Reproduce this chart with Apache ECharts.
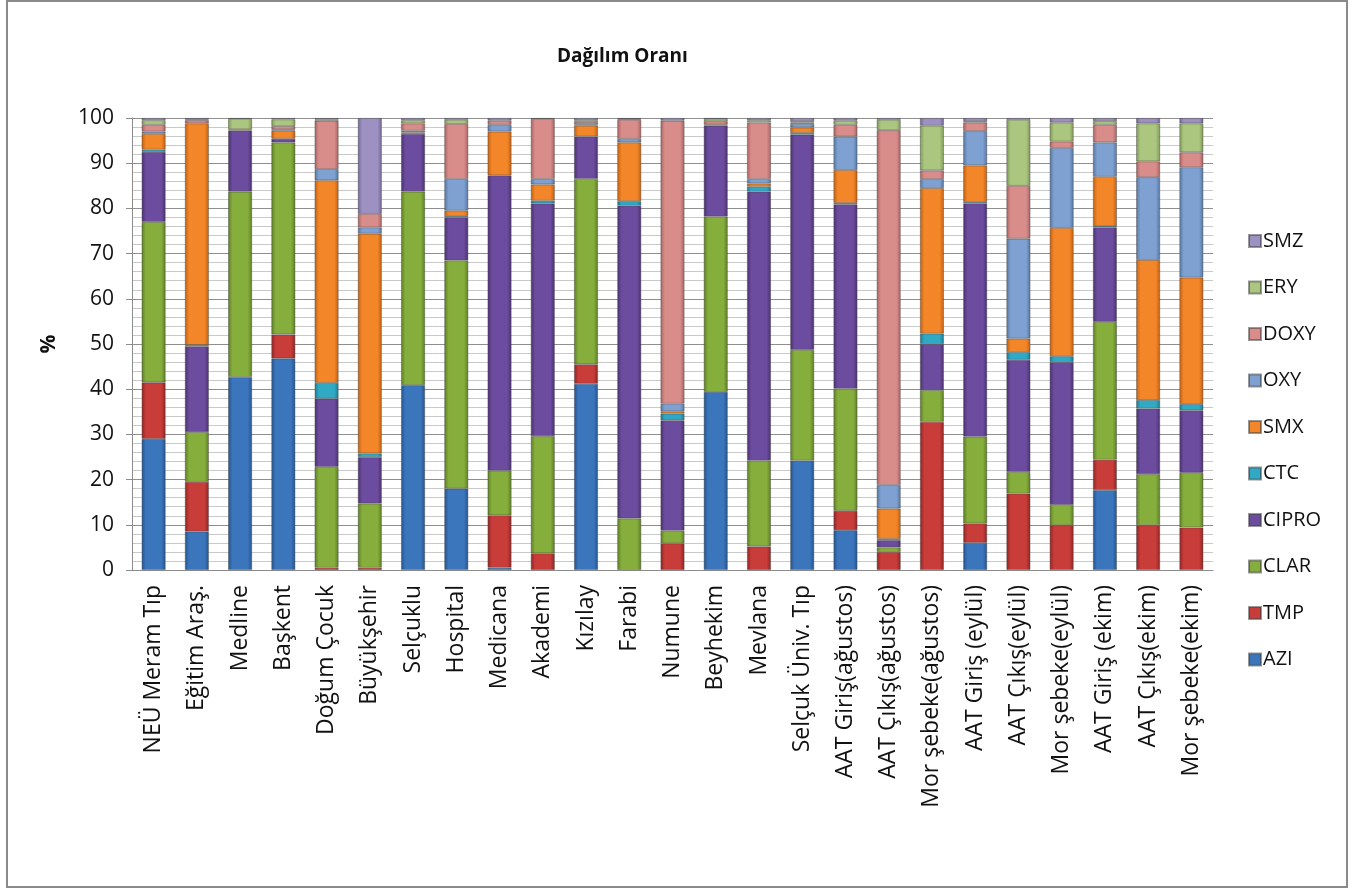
<!DOCTYPE html>
<html>
<head>
<meta charset="utf-8">
<script src="https://cdn.jsdelivr.net/npm/echarts@6/dist/echarts.min.js"></script>
<style>
  html, body { margin: 0; padding: 0; background: #fff; }
  #chart { width: 1359px; height: 890px; }
</style>
</head>
<body>
<div id="chart"></div>
<script>
// Sampling sites
const categories = [
  'NEÜ Meram Tıp', 'Eğitim Araş.', 'Medline', 'Başkent', 'Doğum Çocuk', 'Büyükşehir',
  'Selçuklu', 'Hospital', 'Medicana', 'Akademi', 'Kızılay', 'Farabi', 'Numune',
  'Beyhekim', 'Mevlana', 'Selçuk Üniv. Tıp', 'AAT Giriş(ağustos)', 'AAT Çıkış(ağustos)',
  'Mor şebeke(ağustos)', 'AAT Giriş (eylül)', 'AAT Çıkış(eylül)', 'Mor şebeke(eylül)',
  'AAT Giriş (ekim)', 'AAT Çıkış(ekim)', 'Mor şebeke(ekim)'
];

// Share (%) of each antibiotic per site
const AZI   = [29, 8.5, 42.7, 46.8, 0, 0, 40.9, 18, 0.5, 0, 41.2, 0, 0, 39.4, 0, 24.2, 8.8, 0, 0, 6, 0, 0, 17.7, 0, 0];
const TMP   = [12.5, 11, 0, 5.3, 0.5, 0.5, 0, 0, 11.6, 3.7, 4.3, 0, 5.9, 0, 5.2, 0, 4.3, 4, 32.8, 4.3, 16.9, 9.9, 6.7, 9.9, 9.4];
const CLAR  = [35.5, 11, 41, 42.5, 22.3, 14.2, 42.8, 50.5, 9.9, 25.9, 41, 11.4, 2.8, 38.8, 19, 24.5, 27, 1, 7, 19.2, 4.8, 4.5, 30.5, 11.3, 12.1];
const CIPRO = [15.5, 19, 13.5, 0.8, 15.1, 10.3, 12.8, 9.5, 65.3, 51.5, 9.4, 69.2, 24.4, 20.1, 59.5, 47.6, 40.8, 1.6, 10.2, 51.6, 24.8, 31.6, 20.9, 14.5, 13.8];
const CTC   = [0.5, 0.3, 0, 0, 3.5, 0.8, 0, 0.3, 0, 0.6, 0, 1, 1.5, 0, 1.1, 0.4, 0.3, 0.3, 2.3, 0.3, 1.7, 1.3, 0.3, 1.9, 1.4];
const SMX   = [3.5, 49, 0, 1.8, 44.8, 48.6, 0.3, 1.2, 9.7, 3.6, 2.4, 13, 0.5, 0.3, 0.7, 1.2, 7.3, 6.7, 32.2, 8.1, 3, 28.4, 10.9, 31, 28];
const OXY   = [0.5, 0, 0, 0.3, 2.5, 1.4, 0.4, 7, 1.5, 1.2, 0.3, 0.8, 1.7, 0, 1, 0.8, 7.4, 5.2, 2, 7.6, 22.1, 17.7, 7.6, 18.3, 24.4];
const DOXY  = [1.5, 0.7, 0.3, 0.7, 10.7, 3, 1.6, 12.2, 0.9, 13.3, 0.5, 4.2, 62.6, 0.7, 12.5, 0.3, 2.6, 78.5, 1.9, 1.9, 11.7, 1.4, 3.9, 3.5, 3.3];
const ERY   = [1, 0.2, 2.3, 1.5, 0.3, 0, 0.7, 0.9, 0, 0, 0.4, 0.2, 0, 0.5, 0.5, 0.3, 0.9, 2.3, 9.9, 0.3, 14.6, 4.2, 0.8, 8.4, 6.4];
const SMZ   = [0.5, 0.3, 0.2, 0.3, 0.3, 21.2, 0.5, 0.4, 0.6, 0.2, 0.5, 0.2, 0.6, 0.2, 0.5, 0.7, 0.6, 0.4, 1.7, 0.7, 0.4, 1, 0.7, 1.2, 1.2];

const yTicks = [0, 10, 20, 30, 40, 50, 60, 70, 80, 90, 100];

const seriesDefs = [
  { name: 'AZI',   data: AZI,   base: '#3b76bd', edge: '#24528c' },
  { name: 'TMP',   data: TMP,   base: '#c83c3a', edge: '#8e2422' },
  { name: 'CLAR',  data: CLAR,  base: '#86ae3c', edge: '#5c7d24' },
  { name: 'CIPRO', data: CIPRO, base: '#6c4c9e', edge: '#49306f' },
  { name: 'CTC',   data: CTC,   base: '#30a9c4', edge: '#1c7a8f' },
  { name: 'SMX',   data: SMX,   base: '#f28628', edge: '#c25f10' },
  { name: 'OXY',   data: OXY,   base: '#7ea1d2', edge: '#55759f' },
  { name: 'DOXY',  data: DOXY,  base: '#d88d8b', edge: '#a9615f' },
  { name: 'ERY',   data: ERY,   base: '#abc67f', edge: '#7e9757' },
  { name: 'SMZ',   data: SMZ,   base: '#9d91c1', edge: '#706596' }
];

const FONT = 'Open Sans';

const chart = echarts.init(document.getElementById('chart'));

chart.setOption({
  backgroundColor: '#ffffff',
  animation: false,
  textStyle: { fontFamily: FONT },
  title: {
    text: 'Dağılım Oranı',
    left: 552,
    top: 42,
    textStyle: { fontFamily: FONT, fontSize: 19, fontWeight: 'bold', color: '#111' }
  },
  graphic: [{
    type: 'rect',
    shape: { x: 7, y: 1, width: 1340, height: 886 },
    style: { fill: 'none', stroke: '#8a8a8a', lineWidth: 2 },
    silent: true
  }],
  legend: {
    orient: 'vertical',
    left: 1243,
    top: 226,
    itemWidth: 12,
    itemHeight: 12,
    itemGap: 26.5,
    icon: 'rect',
    data: seriesDefs.map(s => s.name).reverse(),
    textStyle: { fontFamily: FONT, fontSize: 20, color: '#111', padding: [0, 0, 0, -3] }
  },
  grid: { left: 132, right: 146, top: 118, bottom: 320, containLabel: false },
  xAxis: {
    type: 'category',
    data: categories,
    axisLine: { show: true, lineStyle: { color: '#8c8c8c', width: 1 } },
    axisTick: { show: false },
    axisLabel: {
      interval: 0,
      rotate: 90,
      margin: 15,
      fontFamily: FONT,
      fontSize: 23,
      color: '#111'
    }
  },
  yAxis: {
    type: 'value',
    min: yTicks[0],
    max: yTicks[yTicks.length - 1],
    interval: 10,
    name: '%',
    nameLocation: 'middle',
    nameRotate: 90,
    nameGap: 72,
    nameTextStyle: { fontFamily: FONT, fontSize: 21, fontWeight: 'bold', color: '#111' },
    axisLine: { show: true, lineStyle: { color: '#8c8c8c', width: 1 } },
    axisTick: { show: true, length: 6, lineStyle: { color: '#8c8c8c' } },
    axisLabel: { margin: 18, fontFamily: FONT, fontSize: 21, color: '#111' },
    splitLine: { show: true, lineStyle: { color: '#8f8f8f', width: 1 } },
    minorTick: { show: false, splitNumber: 5 },
    minorSplitLine: { show: true, lineStyle: { color: '#c9c9c9', width: 1 } }
  },
  series: seriesDefs.map(s => ({
    name: s.name,
    type: 'bar',
    stack: 'total',
    barWidth: 24,
    data: s.data.map(v => (v === 0 ? null : v)),
    itemStyle: {
      color: new echarts.graphic.LinearGradient(0, 0, 1, 0, [
        { offset: 0, color: s.edge },
        { offset: 0.18, color: s.base },
        { offset: 0.82, color: s.base },
        { offset: 1, color: s.edge }
      ]),
      borderColor: 'rgba(70,70,70,0.55)',
      borderWidth: 0.8
    },
    emphasis: { disabled: true }
  }))
});
</script>
</body>
</html>
